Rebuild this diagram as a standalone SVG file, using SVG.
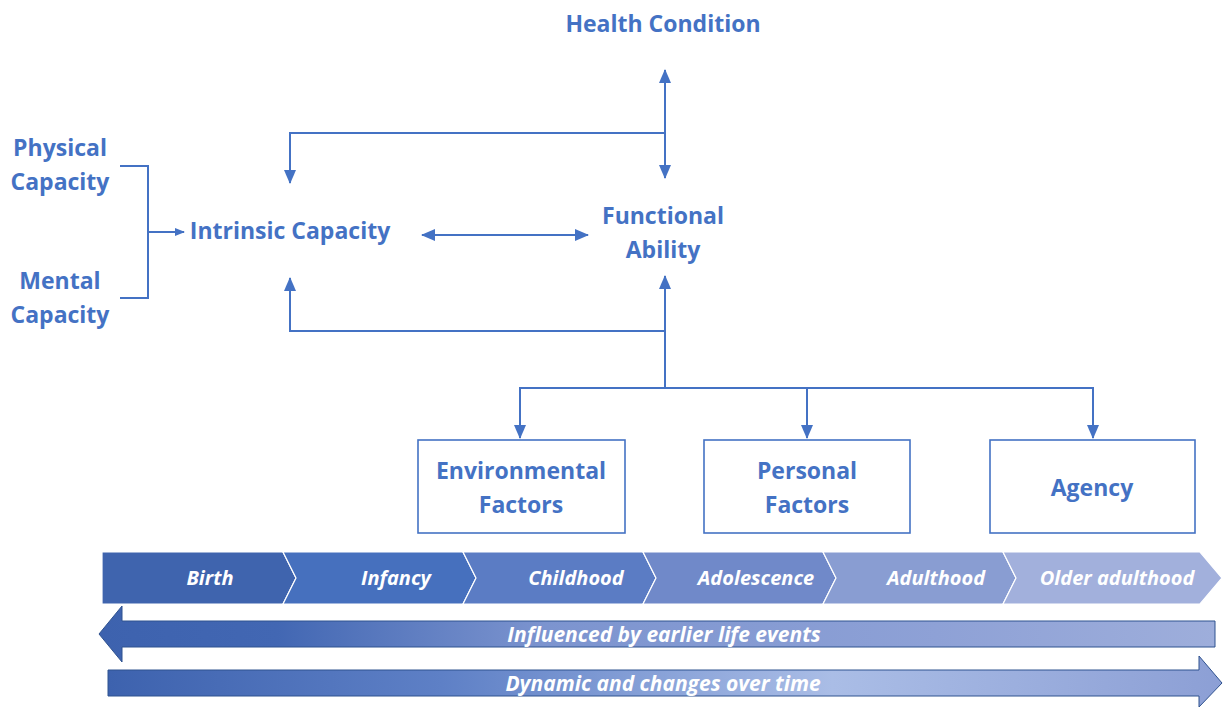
<svg xmlns="http://www.w3.org/2000/svg" width="1224" height="708" viewBox="0 0 1224 708">
<style>
.t{font-family:"Open Sans","Liberation Sans",sans-serif;font-weight:bold;fill:#4472C4;font-size:23px;text-anchor:middle}
.w{font-family:"Open Sans","Liberation Sans",sans-serif;font-weight:bold;font-style:italic;fill:#FFFFFF;font-size:20px;text-anchor:middle}
.w2{font-size:21px}
.c{fill:none;stroke:#4472C4;stroke-width:2}
.box{fill:#FFFFFF;stroke:#4472C4;stroke-width:1.6}
.seg{stroke:#FFFFFF;stroke-width:1.2}
</style>
<defs>
<marker id="ah" markerUnits="userSpaceOnUse" markerWidth="14" markerHeight="14" viewBox="0 0 14 14" refX="13" refY="7" orient="auto-start-reverse">
<path d="M0,1 L14,7 L0,13 Z" fill="#4472C4"/>
</marker>
<marker id="ahs" markerUnits="userSpaceOnUse" markerWidth="10" markerHeight="10" viewBox="0 0 10 10" refX="9" refY="5" orient="auto">
<path d="M0,1 L10,5 L0,9 Z" fill="#4472C4"/>
</marker>
<linearGradient id="gl" gradientUnits="userSpaceOnUse" x1="98" y1="0" x2="1216" y2="0">
<stop offset="0" stop-color="#3D62AE"/>
<stop offset="0.16" stop-color="#4267B3"/>
<stop offset="0.4" stop-color="#7C94CF"/>
<stop offset="0.75" stop-color="#8EA1D6"/>
<stop offset="1" stop-color="#9EAEDB"/>
</linearGradient>
<linearGradient id="gr" gradientUnits="userSpaceOnUse" x1="108" y1="0" x2="1222" y2="0">
<stop offset="0" stop-color="#3D62AE"/>
<stop offset="0.3" stop-color="#5E80C6"/>
<stop offset="0.65" stop-color="#AABDE6"/>
<stop offset="1" stop-color="#8C9FD5"/>
</linearGradient>
</defs>

<g id="connectors">
<polyline class="c" points="120,166 148,166 148,298 120,298"/>
<line class="c" x1="148" y1="232" x2="184" y2="232" marker-end="url(#ahs)"/>
<line class="c" x1="665" y1="70" x2="665" y2="178" marker-start="url(#ah)" marker-end="url(#ah)"/>
<polyline class="c" points="665,133 290,133 290,183" marker-end="url(#ah)"/>
<line class="c" x1="422" y1="235" x2="588" y2="235" marker-start="url(#ah)" marker-end="url(#ah)"/>
<line class="c" x1="665" y1="388" x2="665" y2="276" marker-end="url(#ah)"/>
<polyline class="c" points="665,331 290,331 290,278" marker-end="url(#ah)"/>
<polyline class="c" points="520,438 520,388 1093,388 1093,438" marker-end="url(#ah)"/>
<path class="c" d="M520,390 L520,438" marker-end="url(#ah)"/>
<line class="c" x1="807" y1="388" x2="807" y2="438" marker-end="url(#ah)"/>
</g>

<g id="health-condition"><text class="t" x="663" y="32">Health Condition</text></g>
<g id="physical-capacity"><text class="t" x="60" y="156">Physical</text><text class="t" x="60" y="190">Capacity</text></g>
<g id="mental-capacity"><text class="t" x="60" y="289">Mental</text><text class="t" x="60" y="323">Capacity</text></g>
<g id="intrinsic-capacity"><text class="t" x="290" y="239">Intrinsic Capacity</text></g>
<g id="functional-ability"><text class="t" x="663" y="224">Functional</text><text class="t" x="663" y="258">Ability</text></g>

<g id="environmental-factors">
<rect class="box" x="418" y="440" width="207" height="93"/>
<text class="t" x="521" y="479">Environmental</text><text class="t" x="521" y="513">Factors</text>
</g>
<g id="personal-factors">
<rect class="box" x="704" y="440" width="206" height="93"/>
<text class="t" x="807" y="479">Personal</text><text class="t" x="807" y="513">Factors</text>
</g>
<g id="agency">
<rect class="box" x="990" y="440" width="205" height="93"/>
<text class="t" x="1092" y="496">Agency</text>
</g>

<g id="life-stages">
<polygon class="seg" fill="#3F64AE" points="102,552 283,552 296,578 283,604 102,604"/>
<polygon class="seg" fill="#4670BE" points="283,552 463,552 476,578 463,604 283,604 296,578"/>
<polygon class="seg" fill="#5B7CC4" points="463,552 643,552 656,578 643,604 463,604 476,578"/>
<polygon class="seg" fill="#7089C9" points="643,552 823,552 836,578 823,604 643,604 656,578"/>
<polygon class="seg" fill="#899DD2" points="823,552 1003,552 1016,578 1003,604 823,604 836,578"/>
<polygon class="seg" fill="#A2B0DC" points="1003,552 1200,552 1222,578 1200,604 1003,604 1016,578"/>
<text class="w" x="210" y="585">Birth</text>
<text class="w" x="396" y="585">Infancy</text>
<text class="w" x="576" y="585">Childhood</text>
<text class="w" x="756" y="585">Adolescence</text>
<text class="w" x="936" y="585">Adulthood</text>
<text class="w" x="1117" y="585">Older adulthood</text>
</g>

<g id="earlier-life-events">
<polygon fill="url(#gl)" stroke="#2F528F" stroke-width="1" points="99,634 122,606 122,621 1215,621 1215,647 122,647 122,662"/>
<text class="w w2" x="664" y="642">Influenced by earlier life events</text>
</g>
<g id="dynamic-changes">
<polygon fill="url(#gr)" stroke="#2F528F" stroke-width="1" points="108,670 1199,670 1199,656 1222,683 1199,707 1199,696 108,696"/>
<text class="w w2" x="663" y="691">Dynamic and changes over time</text>
</g>
</svg>
